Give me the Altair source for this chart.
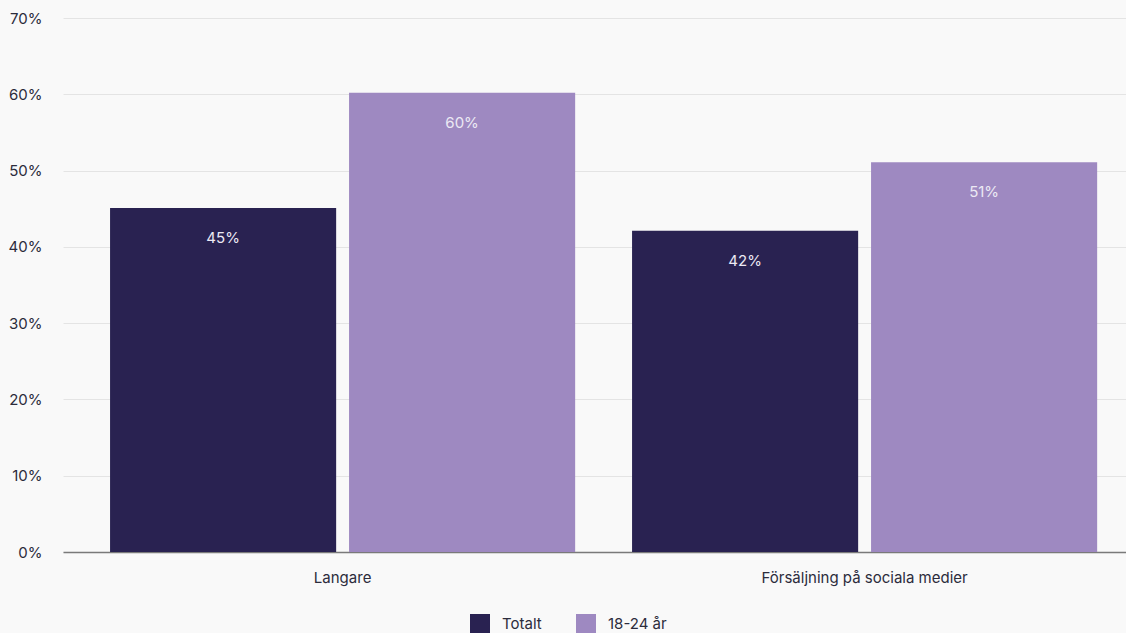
import altair as alt
import pandas as pd

categories = ["Langare", "Försäljning på sociala medier"]
series = ["Totalt", "18-24 år"]
totalt = [45.1, 42.1]
unga = [60.2, 51.1]
colors = ["#292251", "#9e89c1"]

rows = []
for i, c in enumerate(categories):
    rows.append({"kategori": c, "grupp": series[0], "värde": totalt[i]})
    rows.append({"kategori": c, "grupp": series[1], "värde": unga[i]})
df = pd.DataFrame(rows)

FONT = "Inter"
TXT = "#2c2c3c"

x = alt.X("kategori:N", sort=categories, title=None,
          scale=alt.Scale(paddingInner=0.109, paddingOuter=0.0727, align=0.62),
          axis=alt.Axis(labelAngle=0, labelFontSize=15, labelColor=TXT, labelFont=FONT,
                        labelPadding=18, labelLimit=600, ticks=False, domainColor="#7a7a7a",
                        domainWidth=1.5, grid=False))
xo = alt.XOffset("grupp:N", sort=series, scale=alt.Scale(paddingInner=0.054, paddingOuter=0))
y = alt.Y("värde:Q", title=None,
          scale=alt.Scale(domain=[0, 70], nice=False),
          axis=alt.Axis(values=[0, 10, 20, 30, 40, 50, 60, 70], labelExpr="datum.value + '%'",
                        labelFontSize=15, labelColor=TXT, labelFont=FONT, labelPadding=21,
                        ticks=False, domain=False, gridColor="#e4e4e4", gridWidth=1))

bars = alt.Chart(df).mark_bar().encode(
    x=x, xOffset=xo, y=y,
    color=alt.Color("grupp:N", sort=series, scale=alt.Scale(domain=series, range=colors),
                    legend=alt.Legend(title=None, orient="none", direction="horizontal",
                                      legendX=407, legendY=596,
                                      symbolType="square", symbolSize=400, symbolStrokeWidth=0,
                                      labelFontSize=15, labelColor=TXT, labelFont=FONT,
                                      labelOffset=12, columnPadding=34)),
)

labels = alt.Chart(df).transform_calculate(lbl="format(datum['värde'], '.0f') + '%'").mark_text(
    dy=30, fontSize=15, font=FONT, color="#ece9f4", baseline="middle").encode(
    x=x, xOffset=xo, y=y, text="lbl:N")

chart = alt.layer(bars, labels).properties(
    width=1063, height=534,
    background="#f9f9f9",
    padding={"left": 63, "top": 18, "right": 0, "bottom": 81},
    autosize=alt.AutoSizeParams(type="none"),
).configure_view(stroke=None)

chart.save("out.html", embed_options={"renderer": "svg", "actions": False})
